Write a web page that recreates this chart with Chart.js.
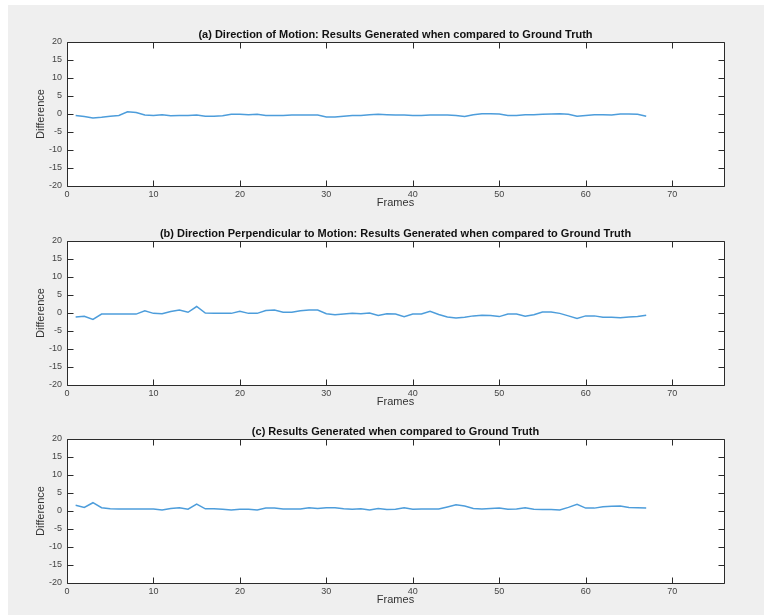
<!DOCTYPE html>
<html>
<head>
<meta charset="utf-8">
<script src="https://cdn.jsdelivr.net/npm/chart.js@4.4.1/dist/chart.umd.min.js"></script>
<style>
  html, body { margin:0; padding:0; background:#ffffff; }
  body { width:764px; height:615px; position:relative; overflow:hidden; }
  #bg { position:absolute; left:8px; top:5px; width:756px; height:610px; background:#efefef; }
  canvas { position:absolute; left:0; }
</style>
</head>
<body>
<div id="bg"></div>
<canvas id="c1" width="764" height="194" style="top:22px"></canvas>
<canvas id="c2" width="764" height="194" style="top:221px"></canvas>
<canvas id="c3" width="764" height="194" style="top:419px"></canvas>
<script>
const frames = [1,2,3,4,5,6,7,8,9,10,11,12,13,14,15,16,17,18,19,20,21,22,23,24,25,26,27,28,29,30,31,32,33,34,35,36,37,38,39,40,41,42,43,44,45,46,47,48,49,50,51,52,53,54,55,56,57,58,59,60,61,62,63,64,65,66,67];

const motionDiff = [-0.4,-0.7,-1.1,-0.9,-0.6,-0.4,0.6,0.4,-0.3,-0.4,-0.2,-0.5,-0.4,-0.4,-0.3,-0.6,-0.6,-0.5,-0.1,-0.1,-0.2,-0.1,-0.4,-0.4,-0.4,-0.3,-0.3,-0.3,-0.3,-0.8,-0.8,-0.6,-0.4,-0.4,-0.2,-0.1,-0.2,-0.3,-0.3,-0.4,-0.4,-0.3,-0.3,-0.3,-0.4,-0.7,-0.2,0.1,0.1,0.0,-0.4,-0.4,-0.2,-0.2,-0.1,0.0,0.1,-0.1,-0.6,-0.4,-0.2,-0.2,-0.3,0.0,0.0,-0.1,-0.6];

const perpDiff = [-1.1,-0.9,-1.8,-0.3,-0.3,-0.3,-0.3,-0.3,0.6,-0.1,-0.2,0.4,0.8,0.2,1.8,0.0,-0.1,-0.1,-0.1,0.5,-0.1,-0.1,0.7,0.8,0.2,0.2,0.6,0.8,0.8,-0.2,-0.5,-0.3,-0.1,-0.2,0.0,-0.7,-0.2,-0.3,-1.0,-0.3,-0.3,0.5,-0.4,-1.1,-1.4,-1.2,-0.8,-0.6,-0.7,-1.0,-0.3,-0.3,-0.9,-0.5,0.3,0.3,-0.1,-0.8,-1.5,-0.8,-0.8,-1.2,-1.2,-1.3,-1.1,-1.0,-0.6];

const overallDiff = [1.6,1.0,2.3,0.9,0.6,0.55,0.55,0.55,0.55,0.55,0.3,0.7,0.9,0.5,1.9,0.6,0.6,0.5,0.3,0.5,0.5,0.3,0.8,0.8,0.55,0.55,0.55,0.9,0.7,0.9,0.9,0.6,0.5,0.6,0.3,0.7,0.4,0.5,0.9,0.5,0.55,0.55,0.55,1.1,1.7,1.4,0.7,0.55,0.7,0.8,0.5,0.55,0.9,0.5,0.4,0.4,0.3,1.0,1.85,0.8,0.8,1.2,1.3,1.4,1.0,0.9,0.8];

const titles = [
  "(a) Direction of Motion: Results Generated when compared to Ground Truth",
  "(b) Direction Perpendicular to Motion: Results Generated when compared to Ground Truth",
  "(c) Results Generated when compared to Ground Truth"
];
const xLabel = "Frames";
const yLabel = "Difference";
const xMin = 0, xMax = 76, xStep = 10, xLastTick = 70;
const yMin = -20, yMax = 20, yStep = 5;

const FONT = "'Liberation Sans', Arial, Helvetica, sans-serif";
const AXIS = "#2b2b2b";
const LINE = "#4d9ddb";

const matlabAxes = {
  id: 'matlabAxes',
  beforeDraw(chart) {
    const a = chart.chartArea, ctx = chart.ctx;
    ctx.save();
    ctx.fillStyle = '#ffffff';
    ctx.fillRect(a.left, a.top, a.right - a.left, a.bottom - a.top);
    ctx.restore();
  },
  afterDraw(chart, args, opts) {
    const a = chart.chartArea, ctx = chart.ctx;
    const xs = chart.scales.x, ys = chart.scales.y;
    const L = Math.round(a.left) + 0.5, R = Math.round(a.right) + 0.5;
    const T = Math.round(a.top) + 0.5, B = Math.round(a.bottom) + 0.5;
    const tl = 6;
    ctx.save();
    ctx.strokeStyle = AXIS;
    ctx.lineWidth = 1;
    ctx.beginPath();
    ctx.rect(L, T, R - L, B - T);
    xs.ticks.forEach(t => {
      const px = Math.round(xs.getPixelForValue(t.value)) + 0.5;
      ctx.moveTo(px, B); ctx.lineTo(px, B - tl);
      ctx.moveTo(px, T); ctx.lineTo(px, T + tl);
    });
    ys.ticks.forEach(t => {
      const py = Math.round(ys.getPixelForValue(t.value)) + 0.5;
      ctx.moveTo(L, py); ctx.lineTo(L + tl, py);
      ctx.moveTo(R, py); ctx.lineTo(R - tl, py);
    });
    ctx.stroke();
    // title
    ctx.fillStyle = '#111';
    ctx.font = "bold 11px " + FONT;
    ctx.textAlign = 'center';
    ctx.textBaseline = 'middle';
    const cx = (a.left + a.right) / 2;
    ctx.fillText(opts.title, cx, a.top - 7);
    // x label
    ctx.fillStyle = '#333';
    ctx.font = "11px " + FONT;
    ctx.fillText(xLabel, cx, a.bottom + 17);
    // y label
    ctx.translate(41, (a.top + a.bottom) / 2);
    ctx.rotate(-Math.PI / 2);
    ctx.fillText(yLabel, 0, 0);
    ctx.restore();
  }
};

function makeChart(id, values, title) {
  return new Chart(document.getElementById(id), {
    type: 'line',
    data: {
      datasets: [{
        data: frames.map((f, i) => ({ x: f, y: values[i] })),
        borderColor: LINE,
        borderWidth: 1.5,
        pointRadius: 0,
        tension: 0,
        fill: false
      }]
    },
    options: {
      responsive: false,
      animation: false,
      events: [],
      layout: { padding: { top: 20, right: 40, bottom: 0, left: 0 } },
      plugins: {
        legend: { display: false },
        tooltip: { enabled: false },
        title: { display: false },
        matlabAxes: { title: title }
      },
      scales: {
        x: {
          type: 'linear',
          min: xMin, max: xMax,
          grid: { display: false, drawTicks: false },
          border: { display: false },
          ticks: { stepSize: xStep, color: '#444', padding: 3, maxRotation: 0,
                    font: { family: FONT, size: 9 } },
          afterBuildTicks(scale) {
            scale.ticks = scale.ticks.filter(t => t.value % xStep === 0 && t.value <= xLastTick);
          },
          afterFit(scale) { scale.height = 30; }
        },
        y: {
          min: yMin, max: yMax,
          grid: { display: false, drawTicks: false },
          border: { display: false },
          ticks: { stepSize: yStep, color: '#444', padding: 5,
                    font: { family: FONT, size: 9 } },
          afterFit(scale) { scale.width = 67; }
        }
      }
    },
    plugins: [matlabAxes]
  });
}

makeChart('c1', motionDiff, titles[0]);
makeChart('c2', perpDiff, titles[1]);
makeChart('c3', overallDiff, titles[2]);
</script>
</body>
</html>
